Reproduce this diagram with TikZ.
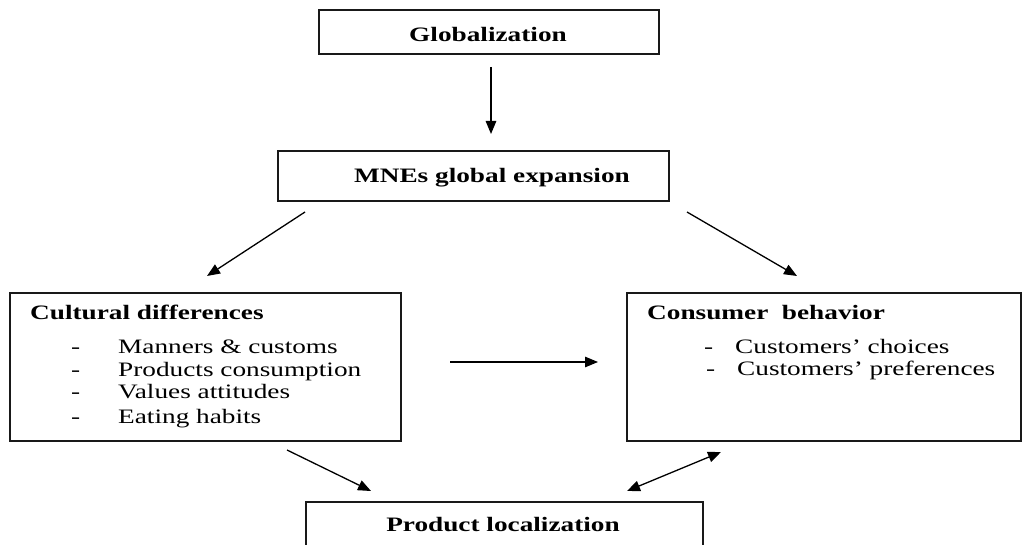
\documentclass[tikz,border=0pt]{standalone}
\usepackage{fontspec}
\setmainfont{Liberation Serif}[FakeStretch=1.33]
\usetikzlibrary{arrows.meta}
\begin{document}
\begin{tikzpicture}[x=1pt,y=-1pt,
  box/.style={draw=black!90, line width=1.7pt, rectangle, inner sep=0pt, outer sep=0pt},
  txt/.style={font=\fontsize{20.5}{23.3}\selectfont, inner sep=0pt, anchor=base west},
  btxt/.style={font=\fontsize{20.5}{23.3}\selectfont\bfseries, inner sep=0pt},
  arr/.style={-{Triangle[length=13pt,width=10.5pt]}, line width=1.3pt},
  darr/.style={{Triangle[length=13pt,width=10.5pt]}-{Triangle[length=13pt,width=10.5pt]}, line width=1.3pt},
]
\useasboundingbox (0,0) rectangle (1023,545);
\clip (0,0) rectangle (1023,545);

% boxes
\node[box, minimum width=340pt, minimum height=44pt] (glob) at (489,32) {};
\node[box, minimum width=391pt, minimum height=50pt] (mne) at (473.5,176) {};
\node[box, minimum width=391pt, minimum height=148pt] (cult) at (205.5,367) {};
\node[box, minimum width=394pt, minimum height=148pt] (cons) at (824,367) {};
\node[box, minimum width=397pt, minimum height=88pt] (prod) at (504.5,546) {};

% texts
\node[btxt, anchor=base] (globt) at (488,42) {Globalization};
\node[btxt, anchor=base] (mnet) at (492,183) {MNEs global expansion};
\node[btxt, anchor=base west] (cultt) at (30,320) {Cultural differences};
\node[txt] (c1d) at (71,353) {-};
\node[txt] (c1) at (118,353) {Manners \& customs};
\node[txt] (c2d) at (71,376) {-};
\node[txt] (c2) at (118,376) {Products consumption};
\node[txt] (c3d) at (71,399) {-};
\node[txt] (c3) at (118,399) {Values attitudes};
\node[txt] (c4d) at (71,423) {-};
\node[txt] (c4) at (118,423) {Eating habits};
\node[btxt, anchor=base west] (const) at (647,320) {Consumer\ \ behavior};
\node[txt] (k1d) at (704,353) {-};
\node[txt] (k1) at (735,353) {Customers’ choices};
\node[txt] (k2d) at (706,375) {-};
\node[txt] (k2) at (737,375) {Customers’ preferences};
\node[btxt, anchor=base] (prodt) at (503,531) {Product localization};

% arrow end points
\coordinate (a1s) at (491,67);   \coordinate (a1e) at (491,134);
\coordinate (a2s) at (305,212);  \coordinate (a2e) at (207,276);
\coordinate (a3s) at (687,212);  \coordinate (a3e) at (797,276);
\coordinate (a4s) at (450,362);  \coordinate (a4e) at (598,362);
\coordinate (a5s) at (287,450);  \coordinate (a5e) at (371,491);
\coordinate (a6s) at (627,491);  \coordinate (a6e) at (721,452);

\draw[arr] (a1s) -- (a1e);
\draw[arr] (a2s) -- (a2e);
\draw[arr] (a3s) -- (a3e);
\draw[arr] (a4s) -- (a4e);
\draw[arr] (a5s) -- (a5e);
\draw[darr] (a6s) -- (a6e);
\end{tikzpicture}
\end{document}
